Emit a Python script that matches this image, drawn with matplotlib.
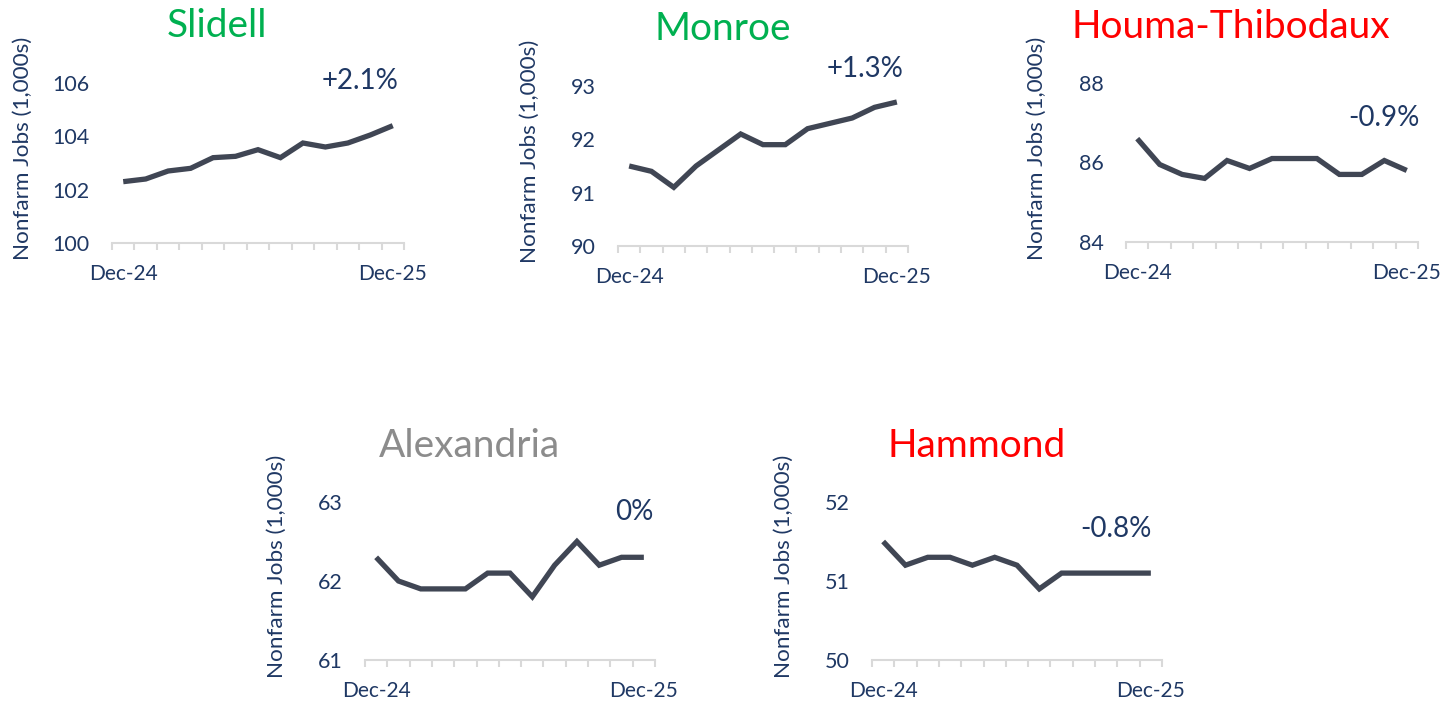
import matplotlib
matplotlib.use("Agg")
import matplotlib.pyplot as plt
from matplotlib.ticker import FixedLocator, NullFormatter

plt.rcParams["font.family"] = ["Lato", "DejaVu Sans"]

# ---------------- data ----------------
months = ["Dec-24", "Jan-25", "Feb-25", "Mar-25", "Apr-25", "May-25", "Jun-25",
          "Jul-25", "Aug-25", "Sep-25", "Oct-25", "Nov-25", "Dec-25"]

slidell = [102.3, 102.4, 102.7, 102.8, 103.2, 103.25, 103.5, 103.2, 103.75, 103.6, 103.75, 104.05, 104.4]
monroe = [91.5, 91.4, 91.1, 91.5, 91.8, 92.1, 91.9, 91.9, 92.2, 92.3, 92.4, 92.6, 92.7]
houma = [86.6, 85.95, 85.7, 85.6, 86.05, 85.85, 86.1, 86.1, 86.1, 85.7, 85.7, 86.05, 85.8]
alexandria = [62.3, 62.0, 61.9, 61.9, 61.9, 62.1, 62.1, 61.8, 62.2, 62.5, 62.2, 62.3, 62.3]
hammond = [51.5, 51.2, 51.3, 51.3, 51.2, 51.3, 51.2, 50.9, 51.1, 51.1, 51.1, 51.1, 51.1]

titles = ["Slidell", "Monroe", "Houma-Thibodaux", "Alexandria", "Hammond"]
series = [slidell, monroe, houma, alexandria, hammond]
changes = ["+2.1%", "+1.3%", "-0.9%", "0%", "-0.8%"]
yticks = [[100, 102, 104, 106], [90, 91, 92, 93], [84, 86, 88], [61, 62, 63], [50, 51, 52]]

# ---------------- layout (pixels) ----------------
W, H = 1441, 702
# left, right, bottom (y of lowest tick), top (y of highest tick)
boxes = [(112, 404, 243, 83), (618, 908, 246, 86), (1126, 1418, 242, 83),
         (365, 655, 660, 502), (872, 1162, 660, 502)]
title_colors = ["#00B050", "#00B050", "#FF0000", "#8C8C8C", "#FF0000"]
pct_pos = [(0.85, 0.96), (0.852, 1.056), (0.884, 0.73), (0.928, 0.886), (0.841, 0.78)]

navy = "#1F3864"
line_col = "#404654"
axis_col = "#D9D9D9"

fig = plt.figure(figsize=(W / 100, H / 100), dpi=100)

for i in range(5):
    l, r, b, t = boxes[i]
    ax = fig.add_axes([l / W, 1 - b / H, (r - l) / W, (b - t) / H])
    x = list(range(len(months)))
    ax.plot(x, series[i], color=line_col, lw=3.8, solid_capstyle="butt", solid_joinstyle="miter")
    ax.set_xlim(-0.5, len(months) - 0.5)
    ax.set_ylim(yticks[i][0], yticks[i][-1])

    for s in ["top", "right", "left"]:
        ax.spines[s].set_visible(False)
    ax.spines["bottom"].set_color(axis_col)
    ax.spines["bottom"].set_linewidth(1.5)

    ax.set_yticks(yticks[i])
    ax.tick_params(axis="y", length=0, pad=16, labelsize=15.5, labelcolor=navy)

    ax.set_xticks([0, len(months) - 1])
    ax.set_xticklabels([months[0], months[-1]])
    ax.tick_params(axis="x", which="major", length=0, pad=15, labelsize=15, labelcolor=navy)
    ax.xaxis.set_minor_locator(FixedLocator([k - 0.5 for k in range(len(months) + 1)]))
    ax.xaxis.set_minor_formatter(NullFormatter())
    ax.tick_params(axis="x", which="minor", length=5, width=1.5, color=axis_col, direction="out")

    ax.text(-0.305, 0.59, "Nonfarm Jobs (1,000s)", transform=ax.transAxes, rotation=90,
            ha="center", va="center", fontsize=16.2, color=navy)
    ax.text(0.36, 1.285, titles[i], transform=ax.transAxes, ha="center", va="baseline",
            fontsize=28, color=title_colors[i], clip_on=False)
    px, py = pct_pos[i]
    ax.text(px, py, changes[i], transform=ax.transAxes, ha="center", va="baseline",
            fontsize=20, color=navy, clip_on=False)

fig.savefig("out.png", dpi=100)
